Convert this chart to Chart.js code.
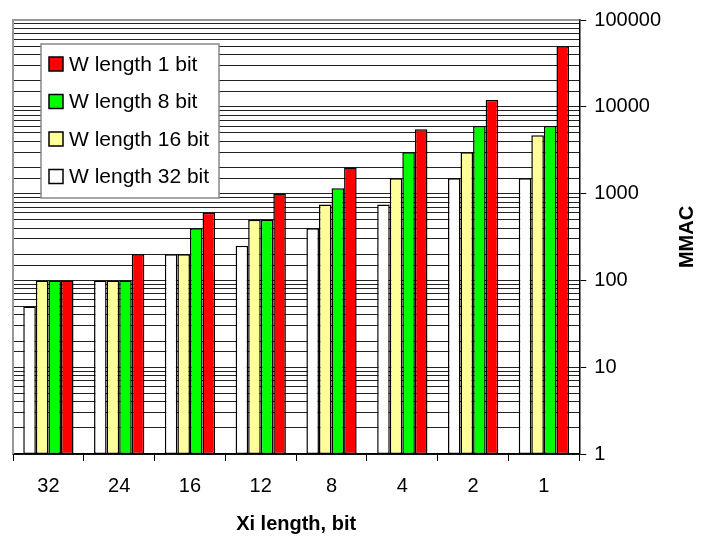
<!DOCTYPE html>
<html>
<head>
<meta charset="utf-8">
<script src="https://cdn.jsdelivr.net/npm/chart.js@4"></script>
<style>
  body { margin: 0; background: #fff; }
  #wrap { width: 702px; height: 538px; position: relative; }
</style>
</head>
<body>
<div id="wrap"><canvas id="mmacChart"></canvas></div>
<script>
// Data
const categories = ['32', '24', '16', '12', '8', '4', '2', '1'];
const w32 = [50, 100, 200, 250, 400, 750, 1500, 1500];
const w16 = [100, 100, 200, 500, 750, 1500, 3000, 4700];
const w8 = [100, 100, 400, 500, 1150, 3000, 6000, 6000];
const w1 = [100, 200, 600, 1000, 2000, 5500, 12000, 50000];
const yTickLabels = ['1', '10', '100', '1000', '10000', '100000'];

const FONT = '"Liberation Sans", Arial, sans-serif';

function isDecade(v) {
    const l = Math.log10(v);
    return Math.abs(l - Math.round(l)) < 1e-9;
}

// grey frame behind the bars
const framePlugin = {
    id: 'frame',
    beforeDatasetsDraw(chart) {
        const { ctx, chartArea: a } = chart;
        ctx.save();
        ctx.strokeStyle = '#999';
        ctx.lineWidth = 2;
        ctx.beginPath();
        ctx.moveTo(a.left, a.bottom);
        ctx.lineTo(a.left, a.top);
        ctx.lineTo(a.right, a.top);
        ctx.stroke();
        ctx.restore();
    }
};

// legend box inside the plot, plus the rotated y title
const boxLegend = {
    id: 'boxLegend',
    afterDraw(chart) {
        const { ctx, chartArea: a } = chart;
        const x0 = a.left + 28, y0 = a.top + 24, w = 178, h = 154;
        ctx.save();
        ctx.fillStyle = '#fff';
        ctx.fillRect(x0, y0, w, h);
        ctx.strokeStyle = '#888';
        ctx.lineWidth = 1.5;
        ctx.strokeRect(x0, y0, w, h);
        const sets = chart.data.datasets.slice().reverse();
        ctx.font = '21px ' + FONT;
        ctx.textBaseline = 'middle';
        sets.forEach((ds, i) => {
            const cy = y0 + 20 + i * 37.5;
            ctx.fillStyle = ds.backgroundColor;
            ctx.fillRect(x0 + 8, cy - 7, 14, 14);
            ctx.strokeStyle = '#000';
            ctx.lineWidth = 1.5;
            ctx.strokeRect(x0 + 8, cy - 7, 14, 14);
            ctx.fillStyle = '#000';
            ctx.fillText(ds.label, x0 + 28, cy + 1);
        });
        // y title, reading bottom to top
        ctx.translate(687, (a.top + a.bottom) / 2);
        ctx.rotate(-Math.PI / 2);
        ctx.font = 'bold 20px ' + FONT;
        ctx.textAlign = 'center';
        ctx.fillText('MMAC', 0, 0);
        ctx.restore();
    }
};

const data = {
    labels: categories,
    datasets: [{
        label: 'W length 32 bit',
        data: w32,
        backgroundColor: '#ffffff'
    }, {
        label: 'W length 16 bit',
        data: w16,
        backgroundColor: '#ffff99'
    }, {
        label: 'W length 8 bit',
        data: w8,
        backgroundColor: '#00ff00'
    }, {
        label: 'W length 1 bit',
        data: w1,
        backgroundColor: '#ff0000'
    }]
};

const config = {
    type: 'bar',
    data: data,
    plugins: [framePlugin, boxLegend],
    options: {
        responsive: true,
        maintainAspectRatio: false,
        animation: false,
        layout: { padding: { left: 13, right: 33, top: 9, bottom: 2 } },
        datasets: {
            bar: {
                borderColor: '#000',
                borderWidth: 1.5,
                borderSkipped: false,
                categoryPercentage: 0.71,
                barPercentage: 1.0
            }
        },
        plugins: {
            legend: { display: false },
            tooltip: { enabled: false }
        },
        scales: {
            x: {
                grid: {
                    drawOnChartArea: false,
                    offset: true,
                    tickLength: 7,
                    color: '#000'
                },
                border: { color: '#000', width: 1.5 },
                ticks: {
                    color: '#000',
                    padding: 13,
                    font: { family: FONT, size: 20 }
                },
                title: {
                    display: true,
                    text: 'Xi length, bit',
                    color: '#000',
                    padding: { top: 1, bottom: 0 },
                    font: { family: FONT, size: 20, weight: 'bold' }
                }
            },
            y: {
                type: 'logarithmic',
                position: 'right',
                min: 1,
                max: 100000,
                grid: {
                    color: '#222',
                    lineWidth: 1,
                    tickLength: 7,
                    tickColor: (c) => (c.tick && isDecade(c.tick.value)) ? '#000' : 'rgba(0,0,0,0)'
                },
                border: { color: '#000', width: 1.5 },
                ticks: {
                    autoSkip: false,
                    color: '#000',
                    padding: 8,
                    font: { family: FONT, size: 20 },
                    callback: function(value) {
                        const s = String(value);
                        return isDecade(value) && yTickLabels.includes(s) ? s : '';
                    }
                }
            }
        }
    }
};

const mmacChart = new Chart(document.getElementById('mmacChart'), config);
</script>
</body>
</html>
